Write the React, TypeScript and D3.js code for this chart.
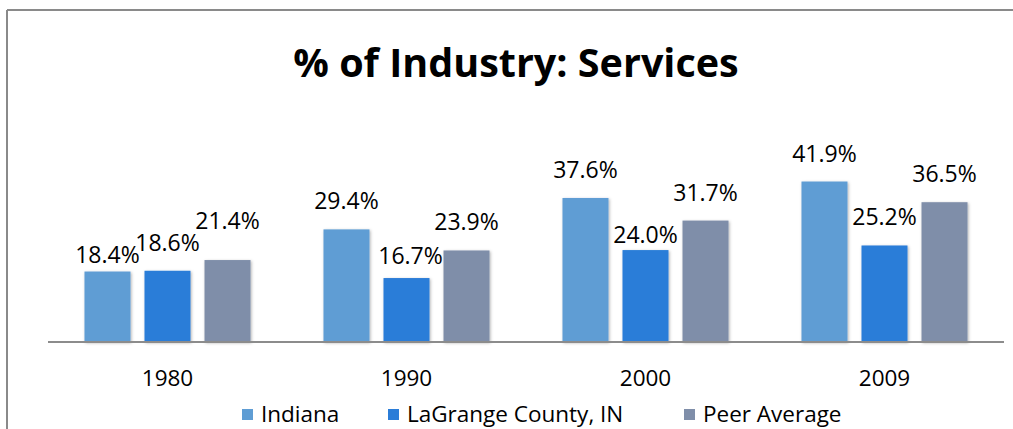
import React from "react";
import * as d3 from "d3";

const categories = ["1980", "1990", "2000", "2009"];
const seriesNames = ["Indiana", "LaGrange County, IN", "Peer Average"];
const indiana = [18.4, 29.4, 37.6, 41.9];
const lagrange = [18.6, 16.7, 24.0, 25.2];
const peer = [21.4, 23.9, 31.7, 36.5];
const seriesValues = [indiana, lagrange, peer];
const title = "% of Industry: Services";

// label nudges (dx, dy) per [series][category] to mimic manually placed labels
const labelDy = [
  [11, 0, 0, 0],
  [0, 6, 13, 0],
  [-11, 0, 0, 0],
];
const labelDx = [
  [0, 0, 0, 0],
  [0, 4, 0, 0],
  [0, 0, 0, 0],
];

const colors = ["#5f9dd4", "#2b7dd8", "#7f8ea9"];
const W = 1013;
const H = 429;
const FONT = "'Open Sans', 'Liberation Sans', sans-serif";

export default function App() {
  const x0 = d3.scaleBand<string>().domain(categories).range([48, 1004]).paddingInner(0).paddingOuter(0);
  const x1 = d3
    .scaleBand<string>()
    .domain(seriesNames)
    .range([0, x0.bandwidth()])
    .paddingInner(14 / 60)
    .paddingOuter(0.608);
  const y = d3.scaleLinear().domain([0, 50]).range([342, 150.5]);

  const legendX = [242, 388, 684];

  return (
    <svg
      width={W}
      height={H}
      style={{ position: "absolute", left: 0, top: 0, background: "#fff" }}
      fontFamily={FONT}
    >
      <defs>
        <filter id="sh" x="-30%" y="-30%" width="160%" height="160%">
          <feDropShadow dx="1" dy="1" stdDeviation="1.6" floodColor="#000" floodOpacity="0.3" />
        </filter>
      </defs>
      <rect x={0} y={0} width={W} height={H} fill="#fff" />
      {/* chart border */}
      <line x1={7} x2={W} y1={10} y2={10} stroke="#8a8a8a" strokeWidth={2} />
      <line x1={7} x2={7} y1={10} y2={H} stroke="#8a8a8a" strokeWidth={2} />

      <text x={516} y={77} textAnchor="middle" fontSize={39.5} fontWeight="bold" fill="#000">
        {title}
      </text>

      {categories.map((c, ci) => (
        <g key={c} transform={`translate(${x0(c)},0)`}>
          {seriesNames.map((s, si) => {
            const v = seriesValues[si][ci];
            return (
              <rect
                key={s}
                x={x1(s)}
                y={y(v)}
                width={x1.bandwidth()}
                height={y(0) - y(v)}
                fill={colors[si]}
                filter="url(#sh)"
              />
            );
          })}
        </g>
      ))}

      <line x1={48} x2={1004} y1={342} y2={342} stroke="#8c8c8c" strokeWidth={2} />

      {categories.map((c, ci) => (
        <g key={"l" + c} transform={`translate(${x0(c)},0)`}>
          {seriesNames.map((s, si) => {
            const v = seriesValues[si][ci];
            return (
              <text
                key={s}
                x={(x1(s) as number) + x1.bandwidth() / 2 + labelDx[si][ci]}
                y={y(v) - 20 + labelDy[si][ci]}
                textAnchor="middle"
                fontSize={23}
                fill="#000"
              >
                {v.toFixed(1) + "%"}
              </text>
            );
          })}
        </g>
      ))}

      {categories.map((c) => (
        <text
          key={"x" + c}
          x={(x0(c) as number) + x0.bandwidth() / 2}
          y={386}
          textAnchor="middle"
          fontSize={22.5}
          fill="#000"
        >
          {c}
        </text>
      ))}

      {seriesNames.map((s, si) => (
        <g key={"lg" + s} transform={`translate(${legendX[si]},0)`}>
          <rect x={0} y={409} width={11} height={11} fill={colors[si]} />
          <text x={19} y={422} fontSize={22.5} fill="#000">
            {s}
          </text>
        </g>
      ))}
    </svg>
  );
}
